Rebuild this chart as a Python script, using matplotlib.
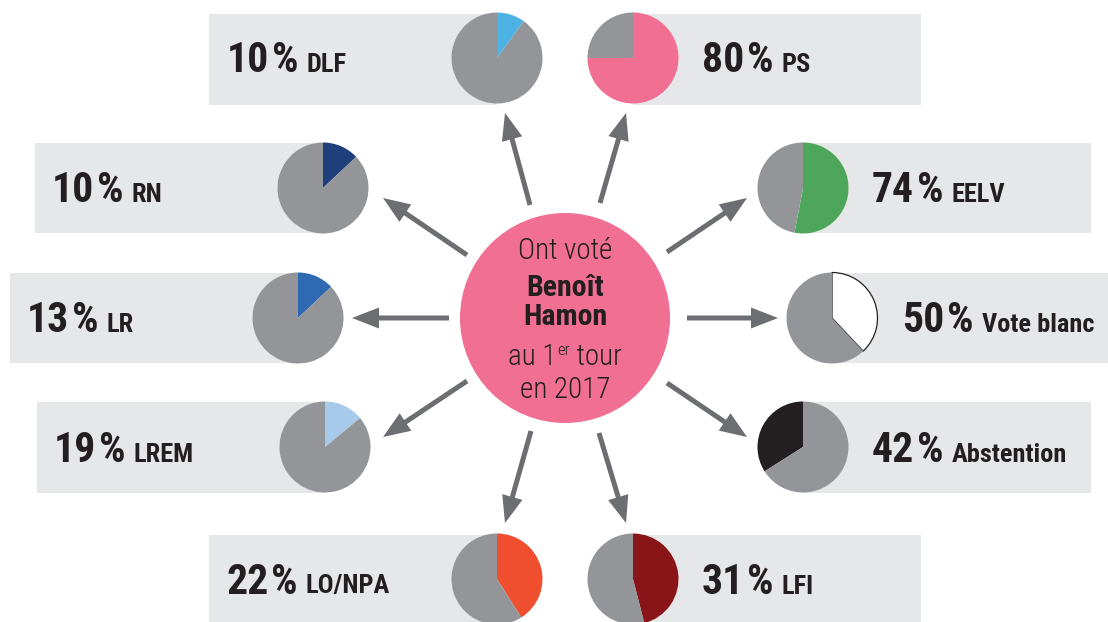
import matplotlib
matplotlib.use("Agg")
import matplotlib.pyplot as plt
from matplotlib.patches import Rectangle, Circle
from matplotlib import font_manager

# ---------------- data ----------------
parties = ["DLF", "PS", "RN", "EELV", "LR", "Vote blanc", "LREM", "Abstention", "LO/NPA", "LFI"]
pct_labels = [10, 80, 10, 74, 13, 50, 19, 42, 22, 31]
# coloured share of each pie as drawn in the picture (%)
pie_shares = [10, 75, 13, 53, 13, 38, 14, 34, 41, 46]
pie_colors = ["#4db3e4", "#f06f93", "#1f3f7b", "#4ea65b", "#2e69b2",
              "#ffffff", "#a8caea", "#231f20", "#ef4e2f", "#8a1518"]
center_lines = ["Ont voté", "Benoît", "Hamon", "au 1", "er", " tour", "en 2017"]

# ---------------- layout ----------------
W, H = 1108, 622
GRAY = "#939598"
BOX = "#e6e7e8"
INK = "#231f20"
ARROW = "#6d6e71"
PINK = "#f06f93"

avail = {f.name for f in font_manager.fontManager.ttflist}
FONT = "DejaVu Sans"
for cand in ["Roboto Condensed", "Fira Sans Condensed", "IBM Plex Sans Condensed",
             "Barlow Condensed", "Liberation Sans Narrow"]:
    if cand in avail:
        FONT = cand
        break
FAM = [FONT, "DejaVu Sans"]

boxes = [(209, 14, 497, 105), (633, 14, 921, 105),
         (35, 143, 323, 233), (803, 143, 1091, 233),
         (10, 273, 298, 363), (832, 273, 1108, 363),
         (37, 402, 325, 493), (803, 402, 1091, 493),
         (209, 535, 497, 622), (633, 535, 921, 622)]
pie_centers = [(497, 58), (633, 58), (323, 188), (803, 188), (298, 318),
               (832, 318), (325, 447), (803, 447), (497, 579), (633, 579)]
text_x = [227, 702, 52, 872, 27, 902, 54, 872, 226, 702]
counterclock = [False, False, False, False, False, False, False, True, False, False]
R = 45.5

arrows = [((530, 205), (505, 113)), ((600, 203), (626, 113)),
          ((467, 255), (383, 198)), ((667, 252), (747, 198)),
          ((449, 318), (352, 318)), ((687, 318), (778, 318)),
          ((467, 381), (383, 437)), ((667, 383), (747, 437)),
          ((531, 431), (505, 523)), ((599, 433), (626, 523))]


def Y(y):
    return H - y


fig = plt.figure(figsize=(W / 100, H / 100), dpi=100)
ax = fig.add_axes([0, 0, 1, 1])

for (x0, y0, x1, y1) in boxes:
    ax.add_patch(Rectangle((x0, Y(y1)), x1 - x0, y1 - y0, facecolor=BOX,
                           edgecolor="none", zorder=1))

for i, (cx, cy) in enumerate(pie_centers):
    s = pie_shares[i]
    wedges, _ = ax.pie([s, 100 - s], colors=[pie_colors[i], GRAY],
                       startangle=90, counterclock=counterclock[i],
                       center=(cx, Y(cy)), radius=R, frame=True,
                       wedgeprops=dict(linewidth=0))
    for w in wedges:
        w.set_zorder(3)
    if parties[i] == "Vote blanc":
        wedges[0].set_edgecolor(INK)
        wedges[0].set_linewidth(0.9)

ax.set_xlim(0, W)
ax.set_ylim(0, H)
ax.set_aspect("auto")
ax.axis("off")

for (t, h) in arrows:
    ax.arrow(t[0], Y(t[1]), h[0] - t[0], Y(h[1]) - Y(t[1]), width=5,
             head_width=21, head_length=27, length_includes_head=True,
             color=ARROW, lw=0, zorder=2)

ax.add_patch(Circle((565, Y(318)), 105, facecolor=PINK, edgecolor="none", zorder=4))

fig.canvas.draw()
renderer = fig.canvas.get_renderer()


def width_of(t):
    return t.get_window_extent(renderer=renderer).width


for i in range(len(parties)):
    by = Y(pie_centers[i][1] + 14.5)
    t1 = ax.text(text_x[i], by, f"{pct_labels[i]}", fontsize=30,
                 fontweight="black", family=FAM, color=INK,
                 va="baseline", ha="left", zorder=5)
    x = text_x[i] + width_of(t1) + 3
    t2 = ax.text(x, by, "%", fontsize=30, fontweight="black", family=FAM, color=INK,
                 va="baseline", ha="left", zorder=5)
    x += width_of(t2) + 8
    ax.text(x, by, parties[i], fontsize=19,
            fontweight="black", family=FAM, color=INK,
            va="baseline", ha="left", zorder=5)

ax.text(565, Y(259), center_lines[0], fontsize=21, fontweight="light", family=FAM,
        color=INK, ha="center", va="baseline", zorder=5)
ax.text(565, Y(296), center_lines[1], fontsize=21.5, fontweight="black", family=FAM,
        color=INK, ha="center", va="baseline", zorder=5)
ax.text(565, Y(325), center_lines[2], fontsize=21.5, fontweight="black", family=FAM,
        color=INK, ha="center", va="baseline", zorder=5)

base = Y(365)
parts = [(center_lines[3], 21, 0), (center_lines[4], 12, 10), (center_lines[5], 21, 0)]
widths = []
for txt, fs, dy in parts:
    t = ax.text(0, 0, txt, fontsize=fs, fontweight="light", family=FAM)
    widths.append(width_of(t))
    t.remove()
x = 565 - sum(widths) / 2
for (txt, fs, dy), w in zip(parts, widths):
    ax.text(x, base + dy, txt, fontsize=fs, fontweight="light", family=FAM, color=INK,
            ha="left", va="baseline", zorder=5)
    x += w

ax.text(565, Y(398), center_lines[6], fontsize=21, fontweight="light", family=FAM,
        color=INK, ha="center", va="baseline", zorder=5)

fig.savefig("out.png", dpi=100)
